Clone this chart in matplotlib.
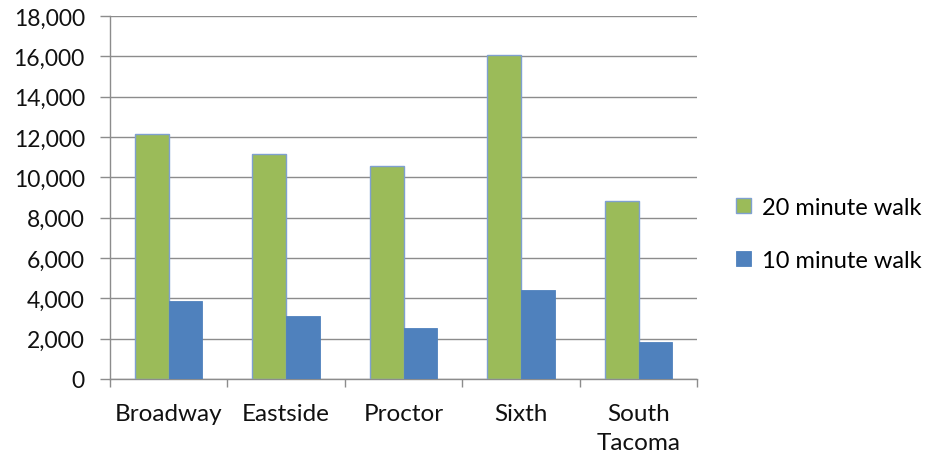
import matplotlib
matplotlib.use("Agg")
import matplotlib.pyplot as plt
import numpy as np
from matplotlib.ticker import FuncFormatter, MultipleLocator

categories = ["Broadway", "Eastside", "Proctor", "Sixth", "South\nTacoma"]
walk_20 = [12130, 11140, 10560, 16080, 8840]
walk_10 = [3850, 3110, 2530, 4430, 1820]
series_labels = ["20 minute walk", "10 minute walk"]

green = "#9BBB59"
blue = "#4F81BD"
grid_grey = "#8C8C8C"

plt.rcParams["font.family"] = ["Lato", "DejaVu Sans"]

fig = plt.figure(figsize=(9.31, 4.6), dpi=100)
ax = fig.add_axes([0.118, 0.174, 0.631, 0.789])

x = np.arange(len(categories))
w = 0.287
ax.bar(x - w / 2, walk_20, width=w, color=green, edgecolor="#7FA0D0",
       linewidth=1.0, label=series_labels[0], zorder=3)
ax.bar(x + w / 2, walk_10, width=w, color=blue, edgecolor=blue,
       linewidth=0.6, label=series_labels[1], zorder=3)

ax.set_xlim(-0.5, len(categories) - 0.5)
ax.set_ylim(0, 18000)
ax.yaxis.set_major_locator(MultipleLocator(2000))
ax.yaxis.set_major_formatter(FuncFormatter(lambda v, p: f"{int(v):,}"))
ax.grid(axis="y", color=grid_grey, linewidth=1.0, zorder=0)

for side in ("top", "right"):
    ax.spines[side].set_visible(False)
for side in ("left", "bottom"):
    ax.spines[side].set_color(grid_grey)
    ax.spines[side].set_linewidth(1.0)

# category labels centred, tick marks on category boundaries
ax.set_xticks(x)
ax.set_xticklabels(categories, fontsize=17.5, color="#111111", linespacing=1.5)
ax.tick_params(axis="x", which="major", length=0, pad=17)
ax.set_xticks(np.arange(len(categories) + 1) - 0.5, minor=True)
ax.tick_params(axis="x", which="minor", length=6, color=grid_grey, width=1.0)
ax.tick_params(axis="y", length=7, color=grid_grey, width=1.0,
               labelsize=16.5, labelcolor="#111111", pad=11)

leg = fig.legend(loc="upper left", bbox_to_anchor=(0.768, 0.616),
                 frameon=False, fontsize=17, handlelength=0.62,
                 handleheight=0.62, handletextpad=0.45, labelspacing=1.35)

fig.savefig("out.png", dpi=100)
